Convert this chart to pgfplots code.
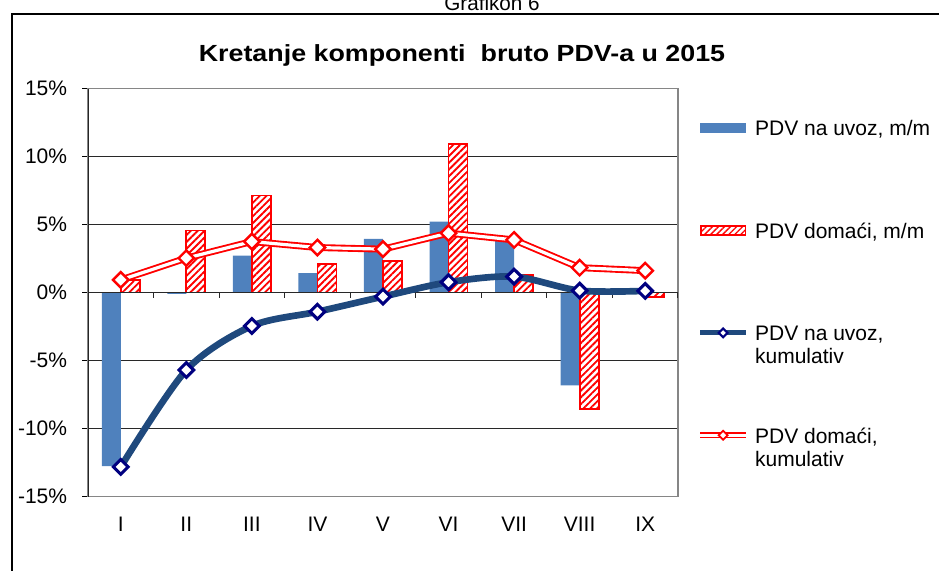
\documentclass[border=0pt]{standalone}
\usepackage{fontspec}
\setmainfont{Liberation Sans}
\usepackage{pgfplots}
\pgfplotsset{compat=1.18}
\usetikzlibrary{patterns.meta}

\definecolor{barblue}{RGB}{79,129,189}
\definecolor{lineblue}{RGB}{31,73,125}
\definecolor{navyc}{RGB}{0,0,128}
\definecolor{gridc}{RGB}{40,40,40}
\definecolor{boxc}{RGB}{134,134,134}

% legend texts: same height for every row, second line hangs below
\newcommand\lone[1]{\raisebox{0pt}[13.3pt][2pt]{#1}}
\newcommand\ltwo[2]{\raisebox{0pt}[13.3pt][2pt]{\vtop{\hbox{#1}\hbox{#2}}}}

\begin{document}
\begin{tikzpicture}
\begin{scope}[x=0.75pt,y=-0.75pt]
  \useasboundingbox (0,0) rectangle (939,571);
  \draw[black, line width=1.1pt] (12,580) -- (12,14) -- (950,14);
  \node[anchor=base, font=\fontsize{15.5pt}{17pt}\selectfont] at (492,10) {Grafikon 6};
  \node[anchor=base, font=\fontsize{17.5pt}{20pt}\selectfont\bfseries] at (462,61.7)
    {\scalebox{1.15}[1]{Kretanje komponenti\ \ bruto PDV-a u 2015}};
\end{scope}

\begin{axis}[
  at={(66pt,-372.4pt)}, anchor=south west,
  scale only axis, width=442.5pt, height=306pt,
  xmin=0.5, xmax=9.5, ymin=-15, ymax=15,
  xtick={1,...,9},
  xticklabels={I,II,III,IV,V,VI,VII,VIII,IX},
  x tick style={draw=none},
  xtick pos=bottom,
  ytick={-15,-10,...,15},
  yticklabels={-15\%,-10\%,-5\%,0\%,5\%,10\%,15\%},
  ytick pos=left,
  tick align=outside,
  major tick length=4.5pt,
  y tick style={black, line width=0.8pt},
  ymajorgrids,
  grid style={gridc, line width=0.8pt},
  axis line style={boxc, line width=1.4pt},
  tick label style={font=\fontsize{15.75pt}{18pt}\selectfont},
  xticklabel style={inner sep=0pt, yshift=-11pt},
  yticklabel style={inner sep=0pt, xshift=-11pt},
  legend cell align=left,
  legend style={
    at={(1.032,0.928)}, anchor=north west,
    draw=none, fill=none, inner sep=0pt,
    column sep=4.5pt, row sep=62pt,
    nodes={inner sep=0pt},
    font=\fontsize{15.75pt}{17.3pt}\selectfont
  },
]
% PDV na uvoz, m/m
\addplot[ybar, bar width=14.25pt, bar shift=-7.125pt, fill=barblue, draw=none,
  legend image code/.code={\fill[barblue] (0pt,-3.75pt) rectangle (34.5pt,3.75pt);}]
  coordinates {(1,-12.76) (2,-0.1) (3,2.72) (4,1.42) (5,3.95) (6,5.22) (7,3.87) (8,-6.83) (9,0)};
\addlegendentry{\lone{PDV na uvoz, m/m}}
% PDV domaci, m/m
\addplot[ybar, bar width=14.25pt, bar shift=7.125pt, draw=red, line width=1.3pt,
  preaction={fill=white},
  pattern={Lines[angle=45,distance=3.6pt,line width=1.4pt]}, pattern color=red,
  legend image code/.code={\draw[red, line width=1pt, preaction={fill=white},
    pattern={Lines[angle=45,distance=3.2pt,line width=1pt]}, pattern color=red]
    (0.5pt,-3.5pt) rectangle (34pt,3.5pt);}]
  coordinates {(1,0.93) (2,4.56) (3,7.14) (4,2.11) (5,2.33) (6,10.94) (7,1.3) (8,-8.59) (9,-0.35)};
\addlegendentry{\lone{PDV doma\'ci, m/m}}
% zero line with category ticks
\draw[gridc, line width=1.3pt] (axis cs:0.5,0) -- (axis cs:9.5,0);
\pgfplotsinvokeforeach{1.5,2.5,3.5,4.5,5.5,6.5,7.5,8.5,9.5}{
  \draw[gridc, line width=0.8pt] (axis cs:#1,0) -- ++(0pt,-4pt);
}
\draw[black!85, line width=1.2pt] (rel axis cs:0,0) -- (rel axis cs:0,1);
% PDV na uvoz, kumulativ
\addplot[lineblue, line width=5pt, smooth, tension=0.5,
  mark=square*, mark size=3.9pt,
  mark options={rotate=45, fill=white, draw=navyc, line width=2.3pt},
  legend image code/.code={
    \draw[lineblue, line width=3.75pt] (0pt,0pt) -- (34.5pt,0pt);
    \draw[navyc, fill=white, line width=1.6pt, rotate around={45:(17.25pt,0pt)}]
      (14.9pt,-2.35pt) rectangle (19.6pt,2.35pt);}]
  coordinates {(1,-12.82) (2,-5.7) (3,-2.46) (4,-1.41) (5,-0.3) (6,0.76) (7,1.17) (8,0.14) (9,0.12)};
\addlegendentry{\ltwo{PDV na uvoz,}{kumulativ}}
% PDV domaci, kumulativ (double red line)
\addplot[red, line width=5.2pt, forget plot]
  coordinates {(1,0.93) (2,2.53) (3,3.75) (4,3.31) (5,3.19) (6,4.37) (7,3.87) (8,1.83) (9,1.61)};
\addplot[white, line width=2.4pt, forget plot]
  coordinates {(1,0.93) (2,2.53) (3,3.75) (4,3.31) (5,3.19) (6,4.37) (7,3.87) (8,1.83) (9,1.61)};
\addplot[only marks, mark=square*, mark size=4.1pt,
  mark options={rotate=45, fill=white, draw=red, line width=1.8pt},
  legend image code/.code={
    \draw[red, line width=4.5pt] (0pt,0pt) -- (34.5pt,0pt);
    \draw[white, line width=2pt] (0pt,0pt) -- (34.5pt,0pt);
    \draw[red, fill=white, line width=1.3pt, rotate around={45:(17.25pt,0pt)}]
      (14.9pt,-2.35pt) rectangle (19.6pt,2.35pt);}]
  coordinates {(1,0.93) (2,2.53) (3,3.75) (4,3.31) (5,3.19) (6,4.37) (7,3.87) (8,1.83) (9,1.61)};
\addlegendentry{\ltwo{PDV doma\'ci,}{kumulativ}}
\end{axis}
\end{tikzpicture}
\end{document}
